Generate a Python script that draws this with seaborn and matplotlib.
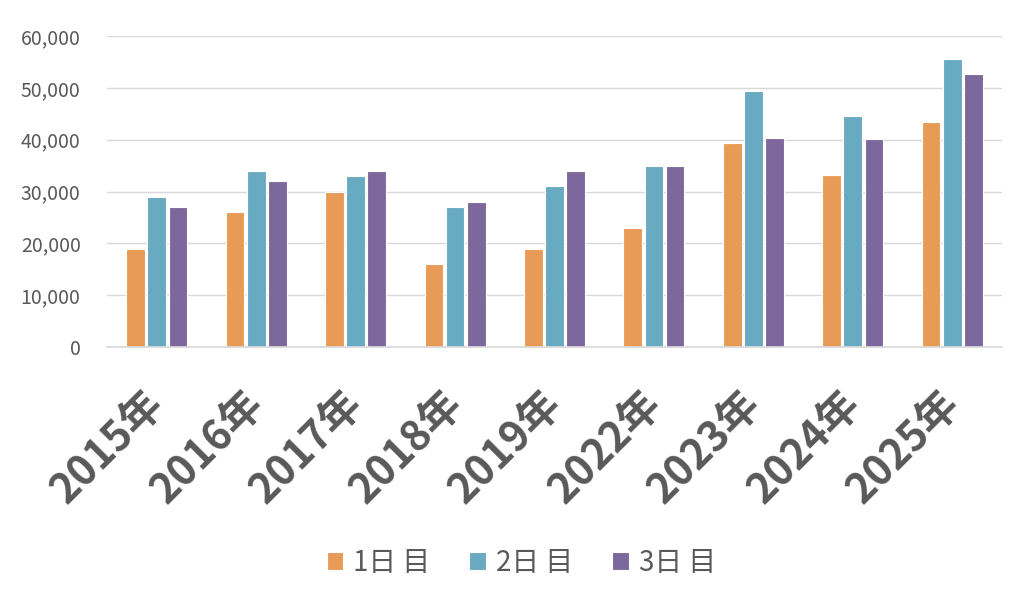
import pandas as pd
import matplotlib
matplotlib.use("Agg")
import matplotlib.pyplot as plt
import matplotlib.ticker as mticker
import matplotlib.transforms as mtransforms
import seaborn as sns

# data
years = ["2015年", "2016年", "2017年", "2018年", "2019年", "2022年", "2023年", "2024年", "2025年"]
day1 = [19000, 26000, 30000, 16000, 19000, 23000, 39300, 33100, 43400]
day2 = [29000, 34000, 33000, 27000, 31000, 35000, 49400, 44600, 55500]
day3 = [27000, 32000, 34000, 28000, 34000, 35000, 40300, 40200, 52600]
series = ["1日 目", "2日 目", "3日 目"]
colors = ["#E89B57", "#69AAC3", "#7D689E"]

df = pd.DataFrame({"year": years * 3,
                   "day": [series[0]] * 9 + [series[1]] * 9 + [series[2]] * 9,
                   "value": day1 + day2 + day3})

sns.set_theme(style="white")
plt.rcParams['font.family'] = ['Noto Sans CJK JP', 'DejaVu Sans']

fig = plt.figure(figsize=(10.24, 5.95), dpi=100)
ax = fig.add_axes([107 / 1024, 1 - 347 / 595, 895 / 1024, 311 / 595])

sns.barplot(data=df, x="year", y="value", hue="day", palette=colors, saturation=1,
            width=0.64, gap=0.12, edgecolor="white", linewidth=0.8, ax=ax)

ax.set_ylim(0, 60000)
ax.set_yticks(range(0, 60001, 10000))
ax.yaxis.set_major_formatter(mticker.FuncFormatter(lambda v, p: f"{int(v):,}"))
ax.grid(axis="y", color="#D9D9D9", linewidth=1)
ax.set_axisbelow(True)
for s in ["top", "right", "left"]:
    ax.spines[s].set_visible(False)
ax.spines["bottom"].set_color("#D9D9D9")
ax.set_xlabel("")
ax.set_ylabel("")
ax.tick_params(axis="y", labelsize=14, colors="#595959", length=0, pad=19)
ax.tick_params(axis="x", length=0, pad=26)
shift = mtransforms.ScaledTranslation(-0.14, 0, fig.dpi_scale_trans)
for lbl in ax.get_xticklabels():
    lbl.set_transform(lbl.get_transform() + shift)
plt.setp(ax.get_xticklabels(), rotation=45, ha="right", rotation_mode="anchor",
         fontsize=30, fontweight="bold", color="#595959")

handles, labels = ax.get_legend_handles_labels()
ax.get_legend().remove()
fig.legend(handles, labels, loc="center", bbox_to_anchor=(0.509, 1 - 563 / 595), ncol=3,
           frameon=False, fontsize=20, handlelength=0.6, handleheight=0.6,
           handletextpad=0.36, columnspacing=1.4, labelcolor="#595959")

fig.savefig("out.png", dpi=100)
